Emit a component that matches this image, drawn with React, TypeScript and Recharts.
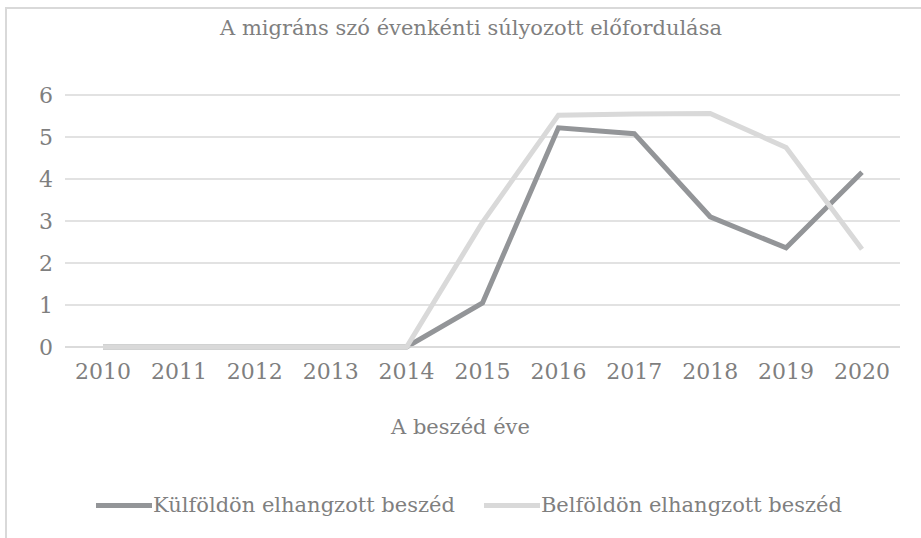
import React from "react";
import {
  LineChart,
  Line,
  XAxis,
  YAxis,
  CartesianGrid,
  Legend,
} from "recharts";

const years = ["2010", "2011", "2012", "2013", "2014", "2015", "2016", "2017", "2018", "2019", "2020"];
const kulfoldon = [0, 0, 0, 0, 0, 1.05, 5.22, 5.08, 3.1, 2.36, 4.16];
const belfoldon = [0, 0, 0, 0, 0, 2.97, 5.52, 5.55, 5.56, 4.75, 2.33];
const yTicks = [0, 1, 2, 3, 4, 5, 6];
const seriesNames = ["Külföldön elhangzott beszéd", "Belföldön elhangzott beszéd"];

const data = years.map((y, i) => ({
  year: y,
  kul: kulfoldon[i],
  bel: belfoldon[i],
}));

const FONT = "'DejaVu Serif', serif";
const TEXT = "#7f7f7f";

function LegendBox(props: any) {
  const items = [...(props.payload || [])].sort(
    (a: any, b: any) => seriesNames.indexOf(a.value) - seriesNames.indexOf(b.value)
  );
  return (
    <div
      style={{
        display: "flex",
        justifyContent: "center",
        gap: 29,
        paddingLeft: 17,
        fontFamily: FONT,
        fontSize: 21,
        color: TEXT,
      }}
    >
      {items.map((it: any) => (
        <div key={it.value} style={{ display: "flex", alignItems: "center" }}>
          <span
            style={{
              display: "inline-block",
              width: 56,
              height: 5,
              background: it.color,
              marginRight: 1,
            }}
          />
          <span>{it.value}</span>
        </div>
      ))}
    </div>
  );
}

export default function App() {
  return (
    <div
      style={{
        position: "absolute",
        left: 0,
        top: 0,
        width: 921,
        height: 538,
        background: "#fff",
        overflow: "hidden",
      }}
    >
      <div
        style={{
          position: "absolute",
          left: 5,
          top: 7,
          width: 940,
          height: 560,
          border: "2px solid #d9d9d9",
        }}
      />
      <div
        style={{
          position: "absolute",
          top: 16,
          left: 0,
          width: 942,
          textAlign: "center",
          fontFamily: FONT,
          fontSize: 21,
          color: TEXT,
        }}
      >
        A migráns szó évenkénti súlyozott előfordulása
      </div>
      <div style={{ position: "absolute", left: 0, top: 0 }}>
        <LineChart
          width={921}
          height={538}
          data={data}
          margin={{ top: 95, right: 21, bottom: 151, left: 0 }}
        >
          <CartesianGrid vertical={false} stroke="#d9d9d9" strokeWidth={1.5} />
          <XAxis
            dataKey="year"
            tickLine={false}
            axisLine={{ stroke: "#d9d9d9", strokeWidth: 1.5 }}
            tickSize={0}
            tickMargin={16}
            height={40}
            interval={0}
            padding={{ left: 38, right: 38 }}
            tick={{ fill: TEXT, fontFamily: FONT, fontSize: 22 }}
            label={{
              value: "A beszéd éve",
              position: "bottom",
              offset: 32,
              dx: -22,
              fill: TEXT,
              fontFamily: FONT,
              fontSize: 21,
            }}
          />
          <YAxis
            domain={[0, 6]}
            ticks={yTicks}
            width={65}
            tickLine={false}
            axisLine={false}
            tickSize={0}
            tickMargin={12}
            tick={{ fill: TEXT, fontFamily: FONT, fontSize: 22 }}
          />
          <Line
            name={seriesNames[0]}
            dataKey="kul"
            stroke="#939598"
            strokeWidth={5}
            dot={false}
            isAnimationActive={false}
          />
          <Line
            name={seriesNames[1]}
            dataKey="bel"
            stroke="#d9d9d9"
            strokeWidth={5}
            dot={false}
            isAnimationActive={false}
          />
          <Legend
            layout="horizontal"
            verticalAlign="middle"
            align="center"
            content={<LegendBox />}
            wrapperStyle={{ top: 493, bottom: "auto", left: 0, width: 921 }}
          />
        </LineChart>
      </div>
    </div>
  );
}
